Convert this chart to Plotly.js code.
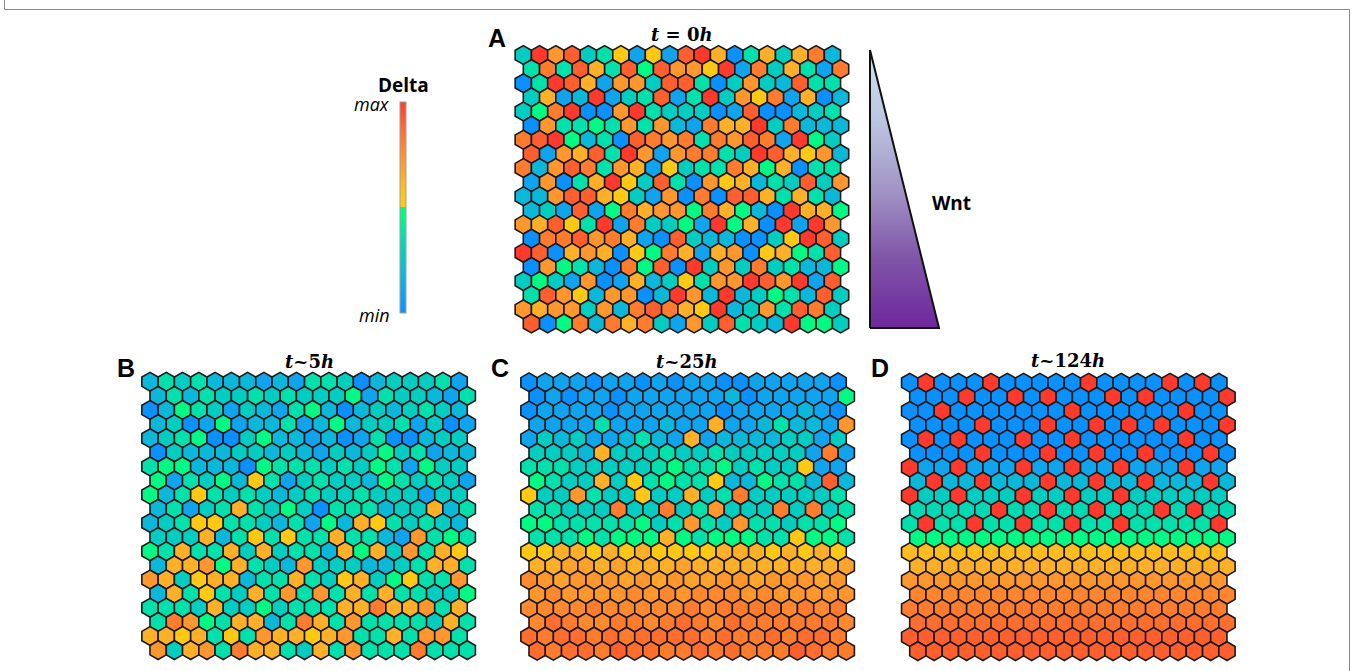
<!DOCTYPE html>
<html><head><meta charset="utf-8">
<script src="https://cdn.plot.ly/plotly-3.0.1.min.js"></script>
<style>html,body{margin:0;padding:0;background:#fff}#chart{width:1352px;height:671px}</style>
</head><body><div id="chart"></div>
<script>
// Delta level of every cell, 0 = min ... 11 = max; rows top to bottom, 20 cells per row
const panelA = [
[3,11,8,10,3,4,6,1,6,1,10,11,7,0,4,7,3,7,9,2],
[4,9,4,10,7,4,10,5,10,8,8,6,11,1,9,3,7,4,1,9],
[0,4,11,10,7,1,8,8,3,10,10,4,0,3,8,3,2,10,4,4],
[3,7,1,2,11,1,3,4,10,1,4,11,3,8,6,9,1,7,0,2],
[3,5,9,11,0,0,8,11,4,3,3,3,0,1,10,0,0,2,3,4],
[0,8,4,4,5,4,8,4,8,2,1,9,7,7,11,3,9,2,2,2],
[9,10,11,5,2,4,0,10,9,8,9,4,9,8,10,9,1,11,5,3],
[10,1,8,7,10,4,11,8,1,8,9,9,4,3,11,10,7,6,8,2],
[9,2,8,10,9,4,8,7,1,6,3,4,4,9,7,5,7,0,4,4],
[1,8,0,4,7,11,6,3,10,4,0,8,6,7,2,4,3,10,3,8],
[2,2,8,10,10,7,6,3,1,8,0,9,0,10,10,7,4,7,4,2],
[2,3,1,10,1,5,9,7,8,8,5,9,7,5,2,0,11,7,7,5],
[8,7,10,6,4,11,1,9,3,3,5,1,11,5,7,0,11,1,11,8],
[0,9,9,10,8,9,7,1,0,10,3,2,2,0,0,3,6,11,10,3],
[11,10,0,7,8,7,0,6,5,9,7,1,7,8,0,6,7,5,4,10],
[0,8,5,4,2,0,9,5,10,0,11,3,8,3,9,3,4,2,2,5],
[3,5,3,1,8,0,1,7,2,3,6,4,8,8,11,10,8,11,1,10],
[4,10,8,6,2,8,8,0,2,11,8,2,11,2,3,5,4,2,10,3],
[8,7,8,8,3,8,2,9,10,9,7,6,11,2,3,8,4,10,9,3],
[10,0,5,9,2,9,7,9,3,1,8,3,10,4,3,2,11,5,5,3]];
const panelB = [
[2,4,3,4,2,2,2,1,2,1,4,4,3,0,2,3,3,3,4,1],
[2,4,2,4,3,3,4,3,4,3,3,3,5,1,4,3,3,2,1,4],
[0,2,5,4,3,1,3,2,1,4,5,2,0,2,3,2,3,4,3,2],
[2,3,0,1,5,1,2,2,4,1,2,5,2,3,3,4,1,3,0,1],
[2,3,4,5,0,0,3,5,2,2,1,2,0,1,4,0,0,2,3,3],
[0,3,2,2,2,3,3,2,3,2,1,3,2,3,5,3,4,1,2,2],
[4,5,5,2,2,2,0,5,4,4,4,3,4,3,5,4,1,5,3,3],
[5,1,4,3,5,2,6,4,1,3,4,3,3,2,5,4,3,4,3,1],
[5,2,4,6,4,3,4,3,2,3,4,3,3,4,3,3,3,1,3,3],
[2,4,1,3,4,7,4,3,5,3,0,4,4,4,2,3,3,7,2,4],
[2,3,4,6,6,4,4,3,2,4,1,5,2,7,6,4,3,4,3,2],
[3,3,3,7,2,4,6,4,6,4,4,7,4,4,2,1,8,4,5,4],
[5,4,7,4,4,7,3,7,3,4,4,2,7,5,7,3,8,4,7,6],
[2,7,7,8,5,7,4,3,2,8,3,3,3,2,2,3,4,7,7,4],
[8,7,3,6,7,7,2,4,4,7,4,3,6,7,3,5,6,4,4,8],
[2,7,4,6,4,3,7,4,8,4,8,4,7,4,7,4,4,3,3,5],
[4,4,4,3,7,3,3,5,3,4,4,4,7,7,9,7,7,8,4,7],
[4,9,8,5,4,7,7,2,4,9,7,4,8,4,4,4,4,3,7,4],
[7,7,6,7,4,6,4,8,7,7,6,7,8,4,4,7,4,8,8,4],
[8,3,7,8,4,9,7,7,4,3,7,4,8,4,4,4,9,4,4,4]];
const panelC = [
[0,1,1,1,0,1,1,0,1,0,1,1,0,0,1,1,1,1,1,0],
[0,1,0,1,1,0,1,1,1,1,1,1,2,0,1,1,1,1,1,5],
[0,1,1,1,1,0,1,1,1,1,1,1,0,1,1,1,1,2,1,0],
[1,1,1,1,4,1,1,1,2,1,1,7,1,1,2,4,2,2,1,8],
[1,3,2,3,1,1,2,4,2,1,7,1,2,2,2,2,3,3,1,3],
[3,3,3,2,7,3,3,3,4,3,3,4,3,3,3,3,3,1,9,1],
[4,4,4,3,3,3,3,3,4,5,4,4,5,3,4,3,3,6,1,1],
[5,4,3,3,7,3,6,4,5,4,4,6,2,2,5,4,4,2,10,2],
[6,3,3,8,4,3,3,6,3,3,7,3,4,9,3,3,3,3,3,4],
[4,4,3,3,3,9,3,3,9,3,4,8,3,3,3,9,3,9,3,4],
[5,5,4,4,4,4,4,5,3,4,8,4,3,8,4,4,3,4,4,5],
[4,4,4,5,4,5,5,5,7,5,4,5,5,5,4,4,6,5,5,4],
[6,6,7,7,6,7,6,7,6,6,6,6,7,7,7,6,7,6,7,6],
[7,7,7.5,7.5,7,7.5,7,7,7,7.5,7,7,7,7,7,7,7,7,7,7.5],
[8.5,8,7.5,8,8,8,7.5,8,7.5,8,7.5,7.5,8,8,7.5,8,8,8,7.5,8],
[8,8.5,8,8,8,8,8.5,8,8.5,8,8.5,8.5,8.5,8,8.5,8,8,8,8,8],
[8.5,8.5,8.5,8.5,9,8.5,8.5,8.5,8.5,8.5,9,8.5,9,9,9,9,8.5,9,8.5,9],
[8.5,9.5,9,8.5,8.5,9,9,8.5,9,9.5,9,8.5,9.5,9,9,9,9,9,9,8.5],
[9.5,9,9.5,9.5,9,9.5,9,9.5,9.5,9.5,9.5,9,9.5,9,9,9.5,9,9.5,9.5,9],
[9.5,9,9.5,9.5,9,10,9.5,9.5,9,9,9.5,9,9.5,9,9,9,10,9.5,9,9]];
const panelD = [
[0,11,0,0,0,11,0,0,0,0,0,11,0,0,0,0,11,0,11,0],
[0,0,0,11,0,0,11,0,11,0,0,0,11,0,11,0,0,0,0,11],
[0,0,11,0,0,0,0,0,0,0,11,0,0,0,0,0,0,11,0,0],
[0,0,0,0,11,0,0,0,11,0,0,11,0,11,0,11,0,0,0,11],
[0,11,0,11,0,0,0,11,0,0,11,0,0,0,0,0,0,11,0,0],
[0,0,0,0,11,0,0,0,11,0,0,11,0,0,11,0,0,0,11,0],
[11,1,1,11,1,1,1,11,1,1,11,1,1,11,1,1,1,11,1,1],
[2,11,2,2,11,2,2,2,11,2,2,11,2,2,11,2,2,2,11,2],
[11,3,3,11,3,3,3,11,3,3,11,3,3,11,3,3,3,3,3,3],
[3.6,3.6,3.6,3.6,3.6,11,3.6,3.6,11,3.6,3.6,11,3.6,3.6,3.6,11,3.6,11,3.6,3.6],
[4,11,4,4,11,4,4,11,4,4,11,4,4,11,4,4,4,4,4,11],
[5,5,5,5,5,5,5,5,5,5,5,5,5,5,5,5,5,5,5,5],
[6.5,6.5,6.5,6.5,6.5,6.5,6.5,6.5,6.5,6.5,6.5,6.5,6.5,6.5,6.5,6.5,6.5,6.5,6.5,6.5],
[7,7,7,7,7,7,7,7,7,7,7,7,7,7,7,7,7,7,7,7],
[8,8,8,8,8,8,8,8,8,8,8,8,8,8,8,8,8,8,8,8],
[8.6,8.6,8.6,8.6,8.6,8.6,8.6,8.6,8.6,8.6,8.6,8.6,8.6,8.6,8.6,8.6,8.6,8.6,8.6,8.6],
[9,9,9,9,9,9,9,9,9,9,9,9,9,9,9,9,9,9,9,9],
[9.5,9.5,9.5,9.5,9.5,9.5,9.5,9.5,9.5,9.5,9.5,9.5,9.5,9.5,9.5,9.5,9.5,9.5,9.5,9.5],
[10,10,10,10,10,10,10,10,10,10,10,10,10,10,10,10,10,10,10,10],
[10,10,10,10,10,10,10,10,10,10,10,10,10,10,10,10,10,10,10,10]];
const panelLetters = ["A","B","C","D"];
const panelTitles = ["<b><i>t</i> = 0<i>h</i></b>","<b><i>t~</i>5<i>h</i></b>","<b><i>t~</i>25<i>h</i></b>","<b><i>t~</i>124<i>h</i></b>"];
const wntX = [0,0,1,0], wntY = [0,1,0,0];

const W=1352,H=671, SX=16.27, SY=14.13;
const origins=[[523.3,55],[150,381.7],[529,382.3],[909.7,382.7]];
const letterPos=[[497,38],[126,368],[500,368],[880,368]];
const titlePos=[[682,34],[309,361],[687,361],[1068,360]];
const fx=p=>p/W, fy=p=>1-p/H;
const stops=[[0,'#0a90ff'],[1,'#10a3ee'],[2,'#0bb8da'],[3,'#02cdc0'],[4,'#02e0ac'],[5,'#00fa84'],[5.5,'#00fa84'],[5.5,'#ffc814'],[6,'#ffc814'],[7,'#ffb028'],[8,'#ff962e'],[9,'#ff7c2e'],[10,'#ff5f2e'],[11,'#ff3a2c']];

const traces=[],layout={width:W,height:H,margin:{l:0,r:0,t:0,b:0,autoexpand:false},paper_bgcolor:'#fff',plot_bgcolor:'rgba(0,0,0,0)',showlegend:false,
 coloraxis:{cmin:0,cmax:11,colorscale:stops.map(s=>[s[0]/11,s[1]]),colorbar:{x:fx(400),xanchor:'left',y:fy(313.3),yanchor:'bottom',lenmode:'pixels',len:211,thicknessmode:'pixels',thickness:6,xpad:0,ypad:0,ticks:'',showticklabels:false,outlinecolor:'#a0a0a0',outlinewidth:1,borderwidth:0}},
 annotations:[],shapes:[]};
const hidden=(range,dom)=>({range,domain:dom,visible:false,fixedrange:true,showgrid:false,zeroline:false});
[panelA,panelB,panelC,panelD].forEach((grid,k)=>{
  const [ox,oy]=origins[k], xs=[],ys=[],cs=[];
  grid.forEach((row,r)=>row.forEach((v,c)=>{xs.push(c+(r%2)*0.5);ys.push(r);cs.push(v);}));
  const id=k?String(k+1):'';
  traces.push({type:'scatter',mode:'markers',x:xs,y:ys,xaxis:'x'+id,yaxis:'y'+id,hoverinfo:'skip',cliponaxis:false,
    marker:{symbol:'hexagon',size:SX/0.866,color:cs,coloraxis:'coloraxis',line:{color:'#1a1a1a',width:1.6}}});
  layout['xaxis'+id]=Object.assign(hidden([-1,21],[fx(ox-SX),fx(ox+21*SX)]),{anchor:'y'+id});
  layout['yaxis'+id]=Object.assign(hidden([20,-1],[fy(oy+20*SY),fy(oy-SY)]),{anchor:'x'+id});
  layout.annotations.push({xref:'paper',yref:'paper',x:fx(letterPos[k][0]),y:fy(letterPos[k][1]),text:'<b>'+panelLetters[k]+'</b>',showarrow:false,xanchor:'center',yanchor:'middle',font:{family:'Liberation Sans',size:25,color:'#000'}});
  layout.annotations.push({xref:'paper',yref:'paper',x:fx(titlePos[k][0]),y:fy(titlePos[k][1]),text:panelTitles[k],showarrow:false,xanchor:'center',yanchor:'middle',font:{family:'DejaVu Serif',size:18,color:'#000'}});
});
// Wnt wedge
traces.push({type:'scatter',mode:'lines',x:wntX,y:wntY,xaxis:'x5',yaxis:'y5',hoverinfo:'skip',fill:'toself',line:{color:'#111',width:2},
  fillgradient:{type:'vertical',colorscale:[[0,'#6e279c'],[0.25,'#7f55a8'],[0.5,'#a295c6'],[0.75,'#bcc6e0'],[1,'#d4e0f2']]}});
const tb={x0:870,x1:939,y0:50,y1:328},pad=0.03;
layout.xaxis5=Object.assign(hidden([-pad,1+pad],[fx(tb.x0-pad*69),fx(tb.x1+pad*69)]),{anchor:'y5'});
layout.yaxis5=Object.assign(hidden([-pad,1+pad],[fy(tb.y1+pad*278),fy(tb.y0-pad*278)]),{anchor:'x5'});
const label=(t,x,y,size,fam,anchor)=>layout.annotations.push({xref:'paper',yref:'paper',x:fx(x),y:fy(y),text:t,showarrow:false,xanchor:anchor||'center',yanchor:'middle',font:{family:fam,size,color:'#000'}});
label('<b>Delta</b>',403,85,19,'Open Sans');
label('<i>max</i>',372,104,18,'Open Sans');
label('<i>min</i>',374,315,18,'Open Sans');
label('<b>Wnt</b>',951,203,19,'Open Sans');
layout.shapes.push({type:'path',xref:'paper',yref:'paper',path:`M ${fx(4.5)} 1 L ${fx(4.5)} ${fy(9.5)} L ${fx(1349.5)} ${fy(9.5)} L ${fx(1349.5)} 0`,line:{color:'#8a8a8a',width:1}});
Plotly.newPlot('chart',traces,layout,{displayModeBar:false,staticPlot:true});
</script></body></html>
